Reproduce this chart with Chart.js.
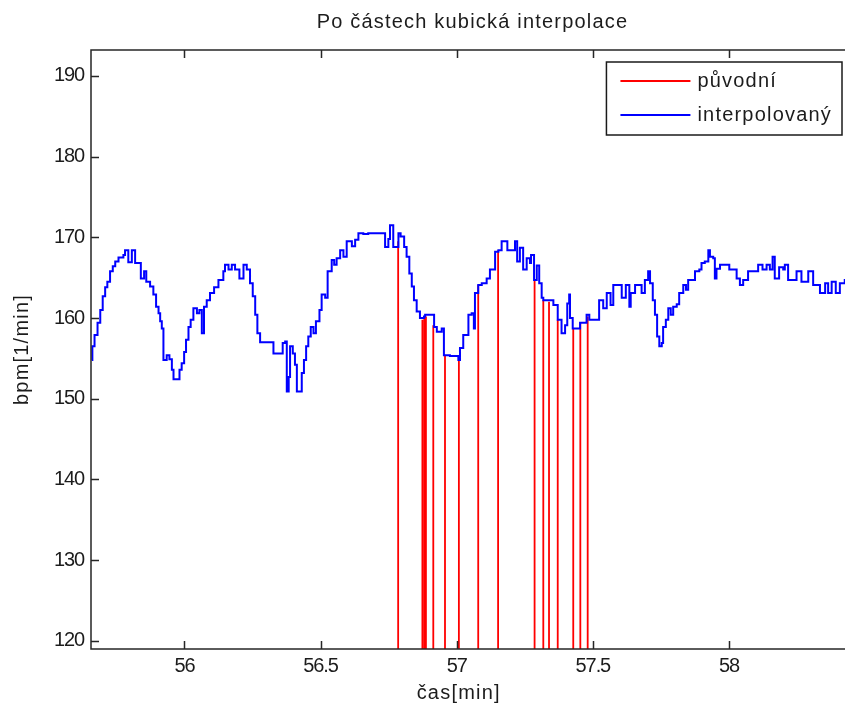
<!DOCTYPE html>
<html>
<head>
<meta charset="utf-8">
<script src="https://cdn.jsdelivr.net/npm/chart.js@4.4.0/dist/chart.umd.min.js"></script>
<style>
  html, body { margin: 0; padding: 0; overflow: hidden; background: #fff; }
  #wrap { width: 942px; height: 711px; }
</style>
</head>
<body>
<div id="wrap"><canvas id="myChart"></canvas></div>
<script>
// interpolovaný průběh tepu [min] / [1/min]
const casInterp = [
  55.660, 55.662, 55.670, 55.681, 55.691, 55.700, 55.709, 55.717, 55.727, 55.737,
  55.746, 55.758, 55.776, 55.782, 55.794, 55.807, 55.819, 55.835, 55.840, 55.852,
  55.860, 55.874, 55.886, 55.896, 55.905, 55.911, 55.917, 55.923, 55.935, 55.945,
  55.954, 55.960, 55.974, 55.982, 55.990, 55.999, 56.006, 56.015, 56.023, 56.033,
  56.046, 56.055, 56.064, 56.072, 56.082, 56.094, 56.109, 56.125, 56.143, 56.149,
  56.162, 56.174, 56.186, 56.202, 56.217, 56.229, 56.241, 56.251, 56.260, 56.268,
  56.278, 56.321, 56.327, 56.351, 56.361, 56.370, 56.376, 56.383, 56.388, 56.398,
  56.406, 56.413, 56.425, 56.431, 56.439, 56.447, 56.455, 56.464, 56.474, 56.483,
  56.496, 56.504, 56.517, 56.526, 56.541, 56.550, 56.559, 56.572, 56.584, 56.596,
  56.615, 56.627, 56.639, 56.657, 56.675, 56.725, 56.737, 56.749, 56.755, 56.767,
  56.786, 56.794, 56.807, 56.816, 56.826, 56.835, 56.843, 56.853, 56.865, 56.880,
  56.884, 56.914, 56.917, 56.927, 56.945, 56.953, 56.975, 57.006, 57.012, 57.024,
  57.043, 57.055, 57.063, 57.067, 57.079, 57.092, 57.110, 57.122, 57.141, 57.153,
  57.165, 57.181, 57.186, 57.206, 57.214, 57.222, 57.232, 57.244, 57.257, 57.269,
  57.273, 57.284, 57.294, 57.303, 57.312, 57.318, 57.342, 57.355, 57.371, 57.385,
  57.398, 57.406, 57.413, 57.416, 57.426, 57.453, 57.477, 57.487, 57.514, 57.523,
  57.538, 57.551, 57.565, 57.575, 57.590, 57.606, 57.621, 57.634, 57.639, 57.655,
  57.673, 57.679, 57.691, 57.703, 57.710, 57.720, 57.728, 57.736, 57.744, 57.753,
  57.758, 57.768, 57.777, 57.786, 57.795, 57.808, 57.817, 57.832, 57.842, 57.850,
  57.863, 57.875, 57.891, 57.899, 57.911, 57.924, 57.930, 57.942, 57.948, 57.954,
  57.967, 57.991, 58.001, 58.015, 58.028, 58.040, 58.052, 58.070, 58.095, 58.107,
  58.123, 58.138, 58.150, 58.160, 58.168, 58.184, 58.199, 58.205, 58.217, 58.248,
  58.266, 58.291, 58.309, 58.334, 58.353, 58.364, 58.377, 58.392, 58.407, 58.425,
  58.444, 58.460
];
const bpmInterp = [
  154.8, 156.5, 157.9, 159.4, 161.0, 162.7, 163.8, 164.5, 165.8, 166.4,
  167.0, 167.5, 167.8, 168.4, 166.9, 168.4, 166.8, 166.8, 164.9, 165.8,
  164.5, 163.9, 162.9, 161.4, 160.6, 159.6, 158.7, 154.8, 155.4, 154.9,
  153.6, 152.4, 152.4, 153.6, 154.4, 155.8, 157.3, 158.9, 159.8, 161.2,
  160.6, 161.0, 158.1, 161.4, 162.2, 163.1, 163.8, 164.7, 165.8, 166.6,
  166.0, 166.6, 166.0, 164.9, 166.6, 166.0, 164.3, 162.7, 160.4, 158.1,
  157.0, 157.0, 155.6, 155.6, 156.9, 157.1, 150.9, 152.7, 156.5, 155.6,
  154.2, 150.9, 150.9, 153.2, 154.8, 156.5, 157.7, 158.9, 158.1, 159.6,
  161.0, 162.9, 162.5, 165.8, 167.2, 166.6, 167.4, 168.4, 167.6, 169.5,
  168.9, 169.7, 170.5, 170.4, 170.5, 170.5, 168.8, 169.8, 171.5, 168.8,
  170.5, 170.1, 168.8, 167.6, 165.5, 163.9, 162.2, 160.8, 160.0, 160.2,
  160.4, 160.4, 158.9, 158.3, 158.7, 155.4, 155.3, 154.8, 156.3, 157.9,
  160.4, 160.6, 158.7, 163.1, 164.1, 164.3, 164.9, 166.0, 168.2, 168.4,
  169.5, 169.5, 168.4, 168.4, 169.5, 167.0, 168.7, 166.0, 167.4, 166.8,
  167.8, 164.7, 166.5, 164.3, 162.5, 162.2, 162.2, 161.6, 159.8, 158.1,
  159.1, 161.8, 162.9, 160.0, 158.7, 159.4, 160.4, 159.8, 159.8, 162.2,
  161.2, 163.1, 161.6, 164.1, 164.1, 162.5, 164.1, 161.4, 163.1, 164.1,
  164.1, 163.1, 164.7, 165.8, 164.3, 162.2, 160.4, 157.7, 156.5, 156.9,
  158.9, 159.8, 161.2, 160.4, 161.4, 161.7, 163.1, 164.1, 163.5, 164.7,
  164.7, 165.8, 166.0, 166.8, 167.0, 168.4, 167.6, 167.4, 164.9, 166.1,
  166.6, 166.6, 166.0, 166.0, 164.9, 164.1, 164.7, 165.8, 165.8, 166.6,
  166.0, 166.6, 166.0, 167.6, 164.9, 166.3, 166.0, 166.6, 164.7, 165.8,
  164.5, 165.8, 164.1, 163.1, 164.3, 163.1, 164.5, 163.1, 164.3, 164.7,
  164.5, 164.8
];

// původní vzorky: čas výpadku a hodnota těsně před ním (výpadek = 0)
const casPuvodni = [56.785, 56.874, 56.881, 56.887, 56.914, 56.957, 57.008, 57.079,
                    57.152, 57.286, 57.318, 57.339, 57.371, 57.428, 57.454, 57.481];
const bpmPuvodni = [169.5, 159.8, 160.0, 160.2, 159.1, 155.4, 154.7, 164.1,
                    168.4, 164.7, 162.2, 162.0, 159.8, 158.7, 159.4, 160.2];
const vypadek = 0;

const xTicks = [56, 56.5, 57, 57.5, 58];
const yTicks = [120, 130, 140, 150, 160, 170, 180, 190];
const xRozsah = [55.657, 58.459];
const yRozsah = [119.0, 193.2];

const nadpis = 'Po částech kubická interpolace';
const popisX = 'čas[min]';
const popisY = 'bpm[1/min]';

const pismo = "'Liberation Sans', Arial, Helvetica, sans-serif";
const velikost = 20;
const proklad = '1.2px';      // texty trochu roztazene
const prokladCisla = '-1.1px'; // cisla u os uzsi
const barvaTextu = '#1c1c1c';

const interpolovany = casInterp.map((t, i) => ({ x: t, y: bpmInterp[i] }));
const puvodni = [];
casPuvodni.forEach((t, i) => {
  puvodni.push({ x: t, y: bpmPuvodni[i] });
  puvodni.push({ x: t, y: vypadek });
  puvodni.push({ x: t, y: null });
});

// ramecek os s tickama dovnitr, popisky a legenda v pravem hornim rohu
const ramecek = {
  id: 'ramecek',
  beforeDraw(chart) {
    chart.ctx.letterSpacing = prokladCisla;
  },
  afterDraw(chart) {
    const ctx = chart.ctx;
    const a = chart.chartArea;
    const sx = chart.scales.x, sy = chart.scales.y;
    ctx.save();
    ctx.strokeStyle = '#262626';
    ctx.lineWidth = 1.5;
    ctx.strokeRect(a.left, a.top, a.right - a.left, a.bottom - a.top);
    ctx.beginPath();
    xTicks.forEach(v => {
      const px = Math.round(sx.getPixelForValue(v)) + 0.5;
      ctx.moveTo(px, a.bottom); ctx.lineTo(px, a.bottom - 8);
      ctx.moveTo(px, a.top); ctx.lineTo(px, a.top + 8);
    });
    yTicks.forEach(v => {
      const py = Math.round(sy.getPixelForValue(v)) + 0.5;
      ctx.moveTo(a.left, py); ctx.lineTo(a.left + 8, py);
      ctx.moveTo(a.right, py); ctx.lineTo(a.right - 8, py);
    });
    ctx.stroke();

    // nadpis a popisky os
    ctx.font = velikost + 'px ' + pismo;
    ctx.letterSpacing = proklad;
    ctx.fillStyle = barvaTextu;
    ctx.textAlign = 'center';
    ctx.textBaseline = 'middle';
    ctx.fillText(nadpis, (a.left + a.right) / 2, 22);
    // popisek x pod stredem rozsahu tick
    const stredTick = (sx.getPixelForValue(xTicks[0]) + sx.getPixelForValue(xTicks[xTicks.length - 1])) / 2;
    ctx.fillText(popisX, stredTick + 2, 693);
    ctx.save();
    ctx.translate(22, (a.top + a.bottom) / 2);
    ctx.rotate(-Math.PI / 2);
    ctx.fillText(popisY, 0, 0);
    ctx.restore();

    // legenda
    const ds = chart.data.datasets;
    const sirkaTextu = Math.max(...ds.map(d => ctx.measureText(d.label).width));
    const w = 14 + 70 + 7 + sirkaTextu + 10;
    const h = 73;
    const x0 = a.right - 12 - w;
    const y0 = a.top + 12;
    ctx.fillStyle = '#fff';
    ctx.fillRect(x0, y0, w, h);
    ctx.lineWidth = 1.5;
    ctx.strokeStyle = '#1a1a1a';
    ctx.strokeRect(x0, y0, w, h);
    ds.forEach((d, i) => {
      const ly = y0 + 19 + i * 34;
      ctx.beginPath();
      ctx.strokeStyle = d.borderColor;
      ctx.lineWidth = 2;
      ctx.moveTo(x0 + 14, ly);
      ctx.lineTo(x0 + 84, ly);
      ctx.stroke();
      ctx.fillStyle = barvaTextu;
      ctx.textAlign = 'left';
      ctx.fillText(d.label, x0 + 91, ly);
    });
    ctx.restore();
  }
};

new Chart('myChart', {
  type: 'line',
  data: {
    datasets: [{
      label: 'původní',
      data: puvodni,
      borderColor: '#ff0000',
      borderWidth: 1.8,
      pointRadius: 0,
      spanGaps: false,
      order: 2
    }, {
      label: 'interpolovaný',
      data: interpolovany,
      borderColor: '#0000ff',
      borderWidth: 2,
      pointRadius: 0,
      stepped: true,
      order: 1
    }]
  },
  options: {
    responsive: true,
    maintainAspectRatio: false,
    animation: false,
    events: [],
    layout: { padding: { left: 0, right: 88, top: 50, bottom: 0 } },
    plugins: {
      legend: { display: false },
      tooltip: { enabled: false },
      title: { display: false }
    },
    scales: {
      x: {
        type: 'linear',
        min: xRozsah[0],
        max: xRozsah[1],
        grid: { display: false, drawTicks: false },
        border: { display: false },
        afterBuildTicks: s => { s.ticks = xTicks.map(v => ({ value: v })); },
        afterFit: s => { s.height = 62; },
        ticks: {
          padding: 5,
          color: barvaTextu,
          font: { family: pismo, size: velikost },
          maxRotation: 0,
          callback: v => String(v)
        }
      },
      y: {
        min: yRozsah[0],
        max: yRozsah[1],
        grid: { display: false, drawTicks: false },
        border: { display: false },
        afterBuildTicks: s => { s.ticks = yTicks.map(v => ({ value: v })); },
        afterFit: s => { s.width = 91; },
        ticks: {
          padding: 7,
          color: barvaTextu,
          font: { family: pismo, size: velikost },
          callback: v => String(v)
        }
      }
    }
  },
  plugins: [ramecek]
});
</script>
</body>
</html>
